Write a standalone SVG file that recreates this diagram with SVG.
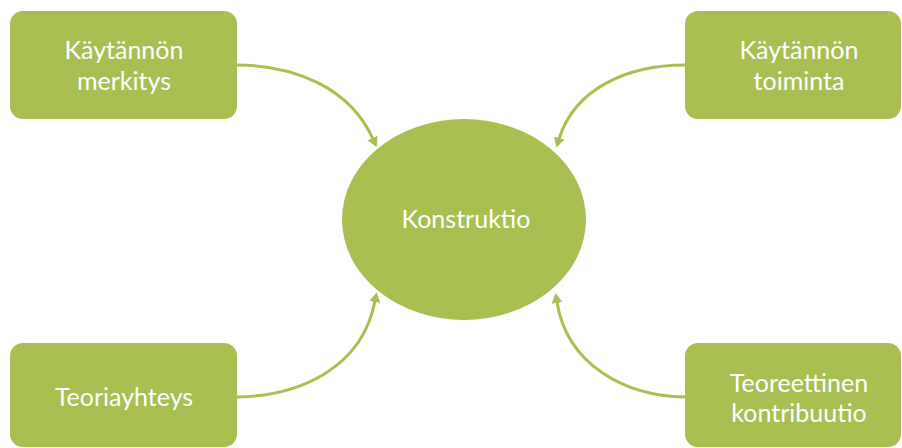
<svg xmlns="http://www.w3.org/2000/svg" width="902" height="448" viewBox="0 0 902 448">
  <style>
    .box { fill: #A9BF51; }
    .lbl { font-family: Lato, "Liberation Sans", sans-serif; font-size: 25px; fill: #FFFFFF; text-anchor: middle; }
    .conn { fill: none; stroke: #A9BF51; stroke-width: 3; }
  </style>
  <defs>
    <marker id="arrow" markerUnits="userSpaceOnUse" markerWidth="12" markerHeight="12" refX="1" refY="6" orient="auto">
      <path d="M0,0.5 L10,6 L0,11.5 Z" fill="#A9BF51"/>
    </marker>
  </defs>
  <rect width="902" height="448" fill="#FFFFFF"/>
  <g id="connectors">
    <path class="conn" d="M237,65 C295,65 350,88 373,139" marker-end="url(#arrow)"/>
    <path class="conn" d="M685,65 C628,65 575,88 559,139" marker-end="url(#arrow)"/>
    <path class="conn" d="M237,397 C300,396 362,368 375,301" marker-end="url(#arrow)"/>
    <path class="conn" d="M685,397 C625,396 567,365 557,302" marker-end="url(#arrow)"/>
  </g>
  <g id="node-konstruktio">
    <ellipse class="box" cx="464" cy="219.5" rx="122" ry="100.5"/>
    <text class="lbl" x="466" y="228">Konstruktio</text>
  </g>
  <g id="node-kaytannon-merkitys">
    <rect class="box" x="10" y="11" width="227" height="108" rx="13"/>
    <text class="lbl" x="124" y="59">Käytännön</text>
    <text class="lbl" x="124" y="90">merkitys</text>
  </g>
  <g id="node-kaytannon-toiminta">
    <rect class="box" x="685" y="11" width="216" height="108" rx="13"/>
    <text class="lbl" x="799" y="59">Käytännön</text>
    <text class="lbl" x="799" y="90">toiminta</text>
  </g>
  <g id="node-teoriayhteys">
    <rect class="box" x="10" y="343" width="227" height="104" rx="13"/>
    <text class="lbl" x="124" y="406">Teoriayhteys</text>
  </g>
  <g id="node-teoreettinen-kontribuutio">
    <rect class="box" x="685" y="343" width="216" height="104" rx="13"/>
    <text class="lbl" x="799" y="392">Teoreettinen</text>
    <text class="lbl" x="799" y="422">kontribuutio</text>
  </g>
</svg>
